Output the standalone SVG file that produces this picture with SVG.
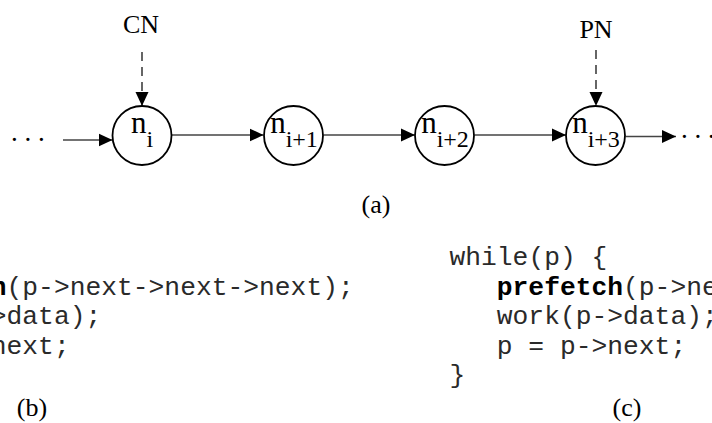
<svg xmlns="http://www.w3.org/2000/svg" width="712" height="423" viewBox="0 0 712 423">
  <style>
    .node circle { fill: #fff; stroke: #000; stroke-width: 1.8; }
    .lbl { font-family: "Liberation Serif", "Times New Roman", serif; fill: #000; }
    .nlab { font-size: 31px; text-anchor: middle; }
    .sub { font-size: 24px; }
    .link { stroke: #444; stroke-width: 1.3; fill: none; marker-end: url(#head); }
    .ptr { stroke: #000; stroke-width: 1.2; fill: none; stroke-dasharray: 9 6; marker-end: url(#head); }
    .code { font-family: "Liberation Mono", "Courier New", monospace; font-size: 26.3px; fill: #2a2a2a; }
    .kw { font-weight: bold; fill: #000; }
  </style>
  <defs>
    <marker id="head" markerUnits="userSpaceOnUse" markerWidth="14" markerHeight="14" refX="14" refY="7" orient="auto">
      <path d="M0,0.5 L14,7 L0,13.5 z" fill="#000"/>
    </marker>
  </defs>
  <rect width="712" height="423" fill="#fff"/>

  <!-- list connectors -->
  <g id="connectors">
    <line class="link" x1="63" y1="140" x2="112.5" y2="140"/>
    <line class="link" x1="172" y1="135" x2="263.5" y2="135"/>
    <line class="link" x1="323.5" y1="135" x2="415" y2="135"/>
    <line class="link" x1="474.5" y1="135" x2="566" y2="135"/>
    <line class="link" x1="625.5" y1="136.5" x2="676" y2="136.5"/>
    <line class="ptr" x1="142" y1="52" x2="142" y2="106"/>
    <line class="ptr" x1="596" y1="50" x2="596" y2="106"/>
  </g>

  <!-- list nodes -->
  <g id="node-ni" class="node">
    <circle cx="142" cy="135.5" r="29.5"/>
    <text class="lbl nlab" x="142" y="133">n<tspan class="sub" dy="13.5">i</tspan></text>
  </g>
  <g id="node-ni1" class="node">
    <circle cx="293.5" cy="135.5" r="29.5"/>
    <text class="lbl nlab" x="294" y="133">n<tspan class="sub" dy="13.5">i+1</tspan></text>
  </g>
  <g id="node-ni2" class="node">
    <circle cx="444.5" cy="135.5" r="29.5"/>
    <text class="lbl nlab" x="445" y="133">n<tspan class="sub" dy="13.5">i+2</tspan></text>
  </g>
  <g id="node-ni3" class="node">
    <circle cx="595.5" cy="135.5" r="29.5"/>
    <text class="lbl nlab" x="596" y="133">n<tspan class="sub" dy="13.5">i+3</tspan></text>
  </g>

  <!-- pointers and ellipses -->
  <g id="cn">
    <text class="lbl" x="141" y="33" font-size="26" text-anchor="middle">CN</text>
  </g>
  <g id="pn">
    <text class="lbl" x="596" y="38" font-size="26" text-anchor="middle">PN</text>
  </g>
  <text class="lbl" x="11" y="141" font-size="27">. . .</text>
  <text class="lbl" x="681" y="137.5" font-size="27">. . .</text>
  <text class="lbl" x="376" y="213" font-size="26" text-anchor="middle">(a)</text>

  <!-- code (b): loop body indented by three columns -->
  <g id="code-b" class="code">
    <text x="-167" y="265">while(p) {</text>
    <text x="-119.7" y="294.5"><tspan class="kw">prefetch</tspan>(p-&gt;next-&gt;next-&gt;next);</text>
    <text x="-119.7" y="324">work(p-&gt;data);</text>
    <text x="-119.7" y="353.5">p = p-&gt;next;</text>
    <text x="-167" y="383">}</text>
  </g>
  <text class="lbl" x="32" y="416" font-size="26" text-anchor="middle">(b)</text>

  <!-- code (c) -->
  <g id="code-c" class="code">
    <text x="449.5" y="265">while(p) {</text>
    <text x="496.8" y="294.5"><tspan class="kw">prefetch</tspan>(p-&gt;next-&gt;next-&gt;next-&gt;next);</text>
    <text x="496.8" y="324">work(p-&gt;data);</text>
    <text x="496.8" y="353.5">p = p-&gt;next;</text>
    <text x="449.5" y="383">}</text>
  </g>
  <text class="lbl" x="627" y="416" font-size="26" text-anchor="middle">(c)</text>
</svg>
